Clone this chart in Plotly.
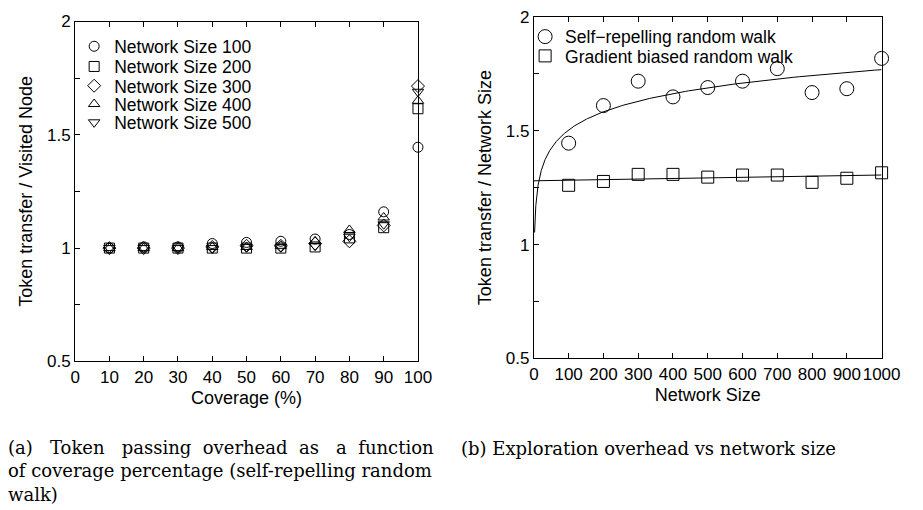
import numpy as np
import plotly.graph_objects as go

# ---------------- data: (a) overhead vs coverage ----------------
coverage = [10, 20, 30, 40, 50, 60, 70, 80, 90, 100]
size100 = [1.000, 1.005, 1.005, 1.020, 1.025, 1.030, 1.040, 1.060, 1.160, 1.445]
size200 = [1.000, 1.000, 1.000, 1.000, 1.000, 1.000, 1.005, 1.045, 1.090, 1.615]
size300 = [1.000, 1.000, 1.000, 1.005, 1.010, 1.010, 1.020, 1.030, 1.100, 1.715]
size400 = [1.000, 1.000, 1.000, 1.005, 1.005, 1.010, 1.030, 1.080, 1.135, 1.650]
size500 = [1.000, 1.000, 1.000, 1.000, 1.005, 1.005, 1.010, 1.050, 1.105, 1.690]
series_a_names = ["Network Size 100", "Network Size 200", "Network Size 300",
                  "Network Size 400", "Network Size 500"]

# ---------------- data: (b) overhead vs network size ----------------
net_sizes = [100, 200, 300, 400, 500, 600, 700, 800, 900, 1000]
self_repelling = [1.445, 1.610, 1.717, 1.648, 1.689, 1.717, 1.772, 1.667, 1.684, 1.817]
gradient_biased = [1.260, 1.277, 1.308, 1.308, 1.296, 1.305, 1.305, 1.273, 1.291, 1.315]
series_b_names = ["Self\u2212repelling random walk", "Gradient biased random walk"]

x_ticks_a = list(range(0, 101, 10))
x_ticks_b = list(range(0, 1001, 100))
y_ticks = [0.5, 1, 1.5, 2]
y_tick_text = ["0.5", "1", "1.5", "2"]

W, H = 923, 510
FONT = "Liberation Sans, Arial, Helvetica, sans-serif"
SERIF = "DejaVu Serif, Liberation Serif, serif"
LEG_FS = 17.5


def px_x(p):
    return p / W


def px_y(p):
    return (H - p) / H


fig = go.Figure()

symbols = ["circle-open", "square-open", "diamond-open", "triangle-up-open", "triangle-down-open"]
for i, (name, ys, sym) in enumerate(zip(series_a_names,
                                        [size100, size200, size300, size400, size500],
                                        symbols)):
    fig.add_trace(go.Scatter(
        x=coverage, y=ys, mode="markers", name=name,
        legend="legend" if i == 0 else "legend%d" % (i + 1),
        marker=dict(symbol=sym, size=10, color="black", line=dict(color="black", width=1)),
        cliponaxis=False, xaxis="x", yaxis="y"))

fig.add_trace(go.Scatter(
    x=net_sizes, y=self_repelling, mode="markers", name=series_b_names[0],
    legend="legend6",
    marker=dict(symbol="circle-open", size=14, color="black", line=dict(color="black", width=1)),
    cliponaxis=False, xaxis="x2", yaxis="y2"))
fig.add_trace(go.Scatter(
    x=net_sizes, y=gradient_biased, mode="markers", name=series_b_names[1],
    legend="legend7",
    marker=dict(symbol="square-open", size=12, color="black", line=dict(color="black", width=1)),
    cliponaxis=False, xaxis="x2", yaxis="y2"))

# fitted trend lines (least squares on the data above)
b_log, a_log = np.polyfit(np.log(net_sizes), self_repelling, 1)
xf = np.geomspace(2, 1000, 300)
fig.add_trace(go.Scatter(x=xf, y=a_log + b_log * np.log(xf), mode="lines",
                         line=dict(color="black", width=1), showlegend=False,
                         hoverinfo="skip", xaxis="x2", yaxis="y2"))
b_lin, a_lin = np.polyfit(net_sizes, gradient_biased, 1)
xl = np.array([0, 1000])
fig.add_trace(go.Scatter(x=xl, y=a_lin + b_lin * xl, mode="lines",
                         line=dict(color="black", width=1), showlegend=False,
                         hoverinfo="skip", xaxis="x2", yaxis="y2"))

tickfont = dict(family=FONT, size=17, color="black")
titlefont = dict(family=FONT, size=18, color="black")

common_x = dict(showline=True, linecolor="black", linewidth=1, mirror="ticks",
                ticks="inside", ticklen=5, tickcolor="black", showgrid=False,
                zeroline=False, tickfont=tickfont, tickangle=0)
common_y = dict(showline=True, linecolor="black", linewidth=1, mirror=True,
                ticks="inside", ticklen=5, tickcolor="black", showgrid=False,
                zeroline=False, tickfont=tickfont, range=[0.5, 2],
                tickvals=y_ticks, ticktext=y_tick_text,
                minor=dict(dtick=0.25, tick0=0.5, ticks="inside", ticklen=5,
                           tickcolor="black"))

layout = dict(
    width=W, height=H, margin=dict(l=0, r=0, t=0, b=0),
    paper_bgcolor="white", plot_bgcolor="white",
    xaxis=dict(common_x, domain=[px_x(72), px_x(424)], range=[0, 100],
               tickvals=x_ticks_a, anchor="y",
               title=dict(text="Coverage (%)", font=titlefont, standoff=5)),
    yaxis=dict(common_y, domain=[px_y(366), px_y(13)], anchor="x",
               title=dict(text="Token transfer / Visited Node", font=titlefont, standoff=9)),
    xaxis2=dict(common_x, domain=[px_x(543), px_x(900)], range=[0, 1000],
                tickvals=x_ticks_b, anchor="y2",
                title=dict(text="Network Size", font=titlefont, standoff=5)),
    yaxis2=dict(common_y, domain=[px_y(363), px_y(8)], anchor="x2",
                title=dict(text="Token transfer / Network Size", font=titlefont, standoff=9)),
    showlegend=True,
)

# one legend per entry so the row spacing can follow the reference
row_centers_a = [38, 59, 79, 98, 117]
row_centers_b = [28, 48]
legend_offset = 5 + (LEG_FS * 1.3 + 3) / 2
for i, yc in enumerate(row_centers_a):
    key = "legend" if i == 0 else "legend%d" % (i + 1)
    layout[key] = dict(x=px_x(71), y=px_y(yc - legend_offset), xanchor="left", yanchor="top",
                       bgcolor="rgba(0,0,0,0)", borderwidth=0,
                       font=dict(family=FONT, size=LEG_FS, color="black"), itemwidth=30)
for j, yc in enumerate(row_centers_b):
    key = "legend%d" % (6 + j)
    layout[key] = dict(x=px_x(534), y=px_y(yc - legend_offset), xanchor="left", yanchor="top",
                       bgcolor="rgba(0,0,0,0)", borderwidth=0,
                       font=dict(family=FONT, size=LEG_FS, color="black"), itemwidth=30)

fig.update_layout(**layout)

NB = "\u00a0"
cap_a = ("(a)" + NB * 2 + " Token" + NB * 2 + " passing" + NB + " overhead" + NB + " as"
         + NB * 2 + " a" + NB + " function"
         + "<br>of coverage percentage (self-repelling random<br>walk)")
fig.add_annotation(text=cap_a, xref="paper", yref="paper", x=px_x(1), y=px_y(480),
                   xanchor="left", yanchor="middle", align="left", showarrow=False,
                   font=dict(family=SERIF, size=18, color="black"))
fig.add_annotation(text="(b) Exploration overhead vs network size",
                   xref="paper", yref="paper", x=px_x(466), y=px_y(457),
                   xanchor="left", yanchor="middle", align="left", showarrow=False,
                   font=dict(family=SERIF, size=18, color="black"))

fig.write_html("out.html")
